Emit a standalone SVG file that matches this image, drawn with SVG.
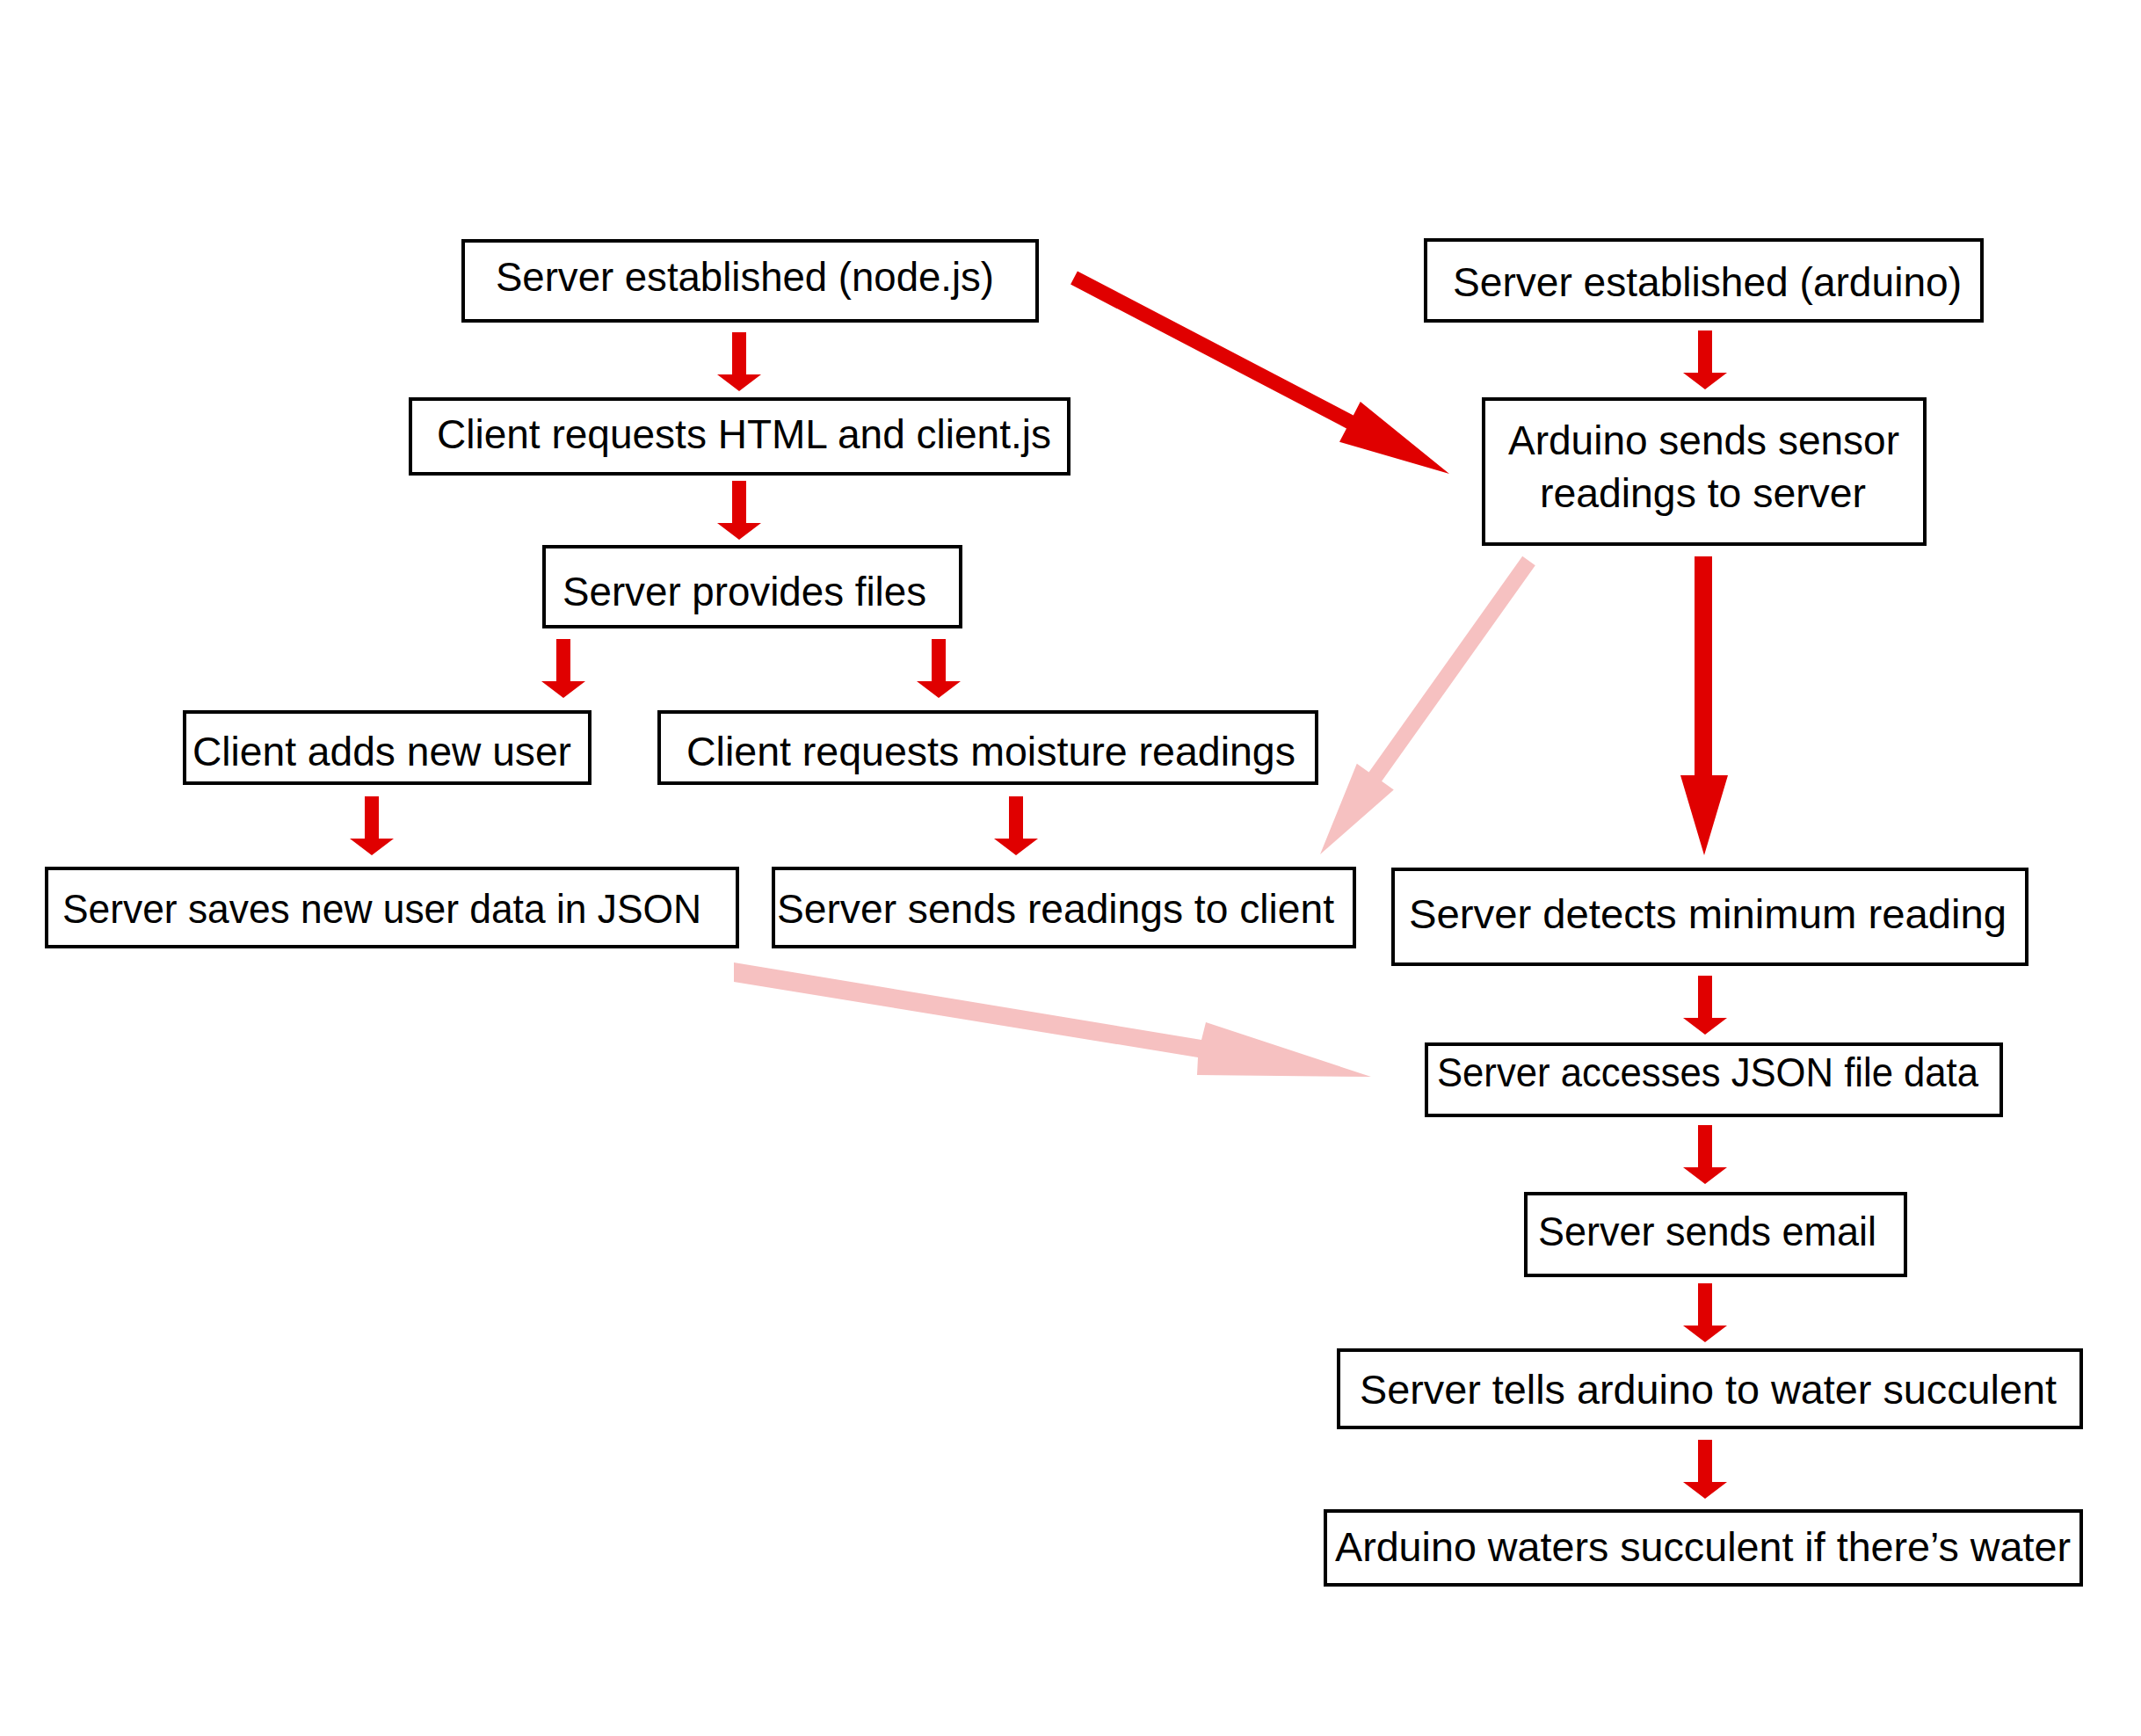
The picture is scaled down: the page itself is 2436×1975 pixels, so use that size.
<svg xmlns="http://www.w3.org/2000/svg" xmlns:xlink="http://www.w3.org/1999/xlink" width="2436" height="1975" viewBox="0 0 2436 1975">
<style>
.box{fill:#ffffff;stroke:#000000;stroke-width:4}
.lbl{font-family:"Liberation Sans",Arial,sans-serif;font-size:46px;fill:#000000}
.red{fill:#e00000}
.pink{fill:#f6c1c1}
</style>
<defs>
<polygon id="sarrow" points="-8,0 8,0 8,48 25,48 0,67 -25,48 -8,48"/>
</defs>
<rect width="2436" height="1975" fill="#ffffff"/>
<g id="connectors">
<use xlink:href="#sarrow" href="#sarrow" class="red" x="841" y="378"/>
<use xlink:href="#sarrow" href="#sarrow" class="red" x="841" y="547"/>
<use xlink:href="#sarrow" href="#sarrow" class="red" x="641" y="727"/>
<use xlink:href="#sarrow" href="#sarrow" class="red" x="1068" y="727"/>
<use xlink:href="#sarrow" href="#sarrow" class="red" x="423" y="906"/>
<use xlink:href="#sarrow" href="#sarrow" class="red" x="1156" y="906"/>
<use xlink:href="#sarrow" href="#sarrow" class="red" x="1940" y="376"/>
<use xlink:href="#sarrow" href="#sarrow" class="red" x="1940" y="1110"/>
<use xlink:href="#sarrow" href="#sarrow" class="red" x="1940" y="1280"/>
<use xlink:href="#sarrow" href="#sarrow" class="red" x="1940" y="1460"/>
<use xlink:href="#sarrow" href="#sarrow" class="red" x="1940" y="1638"/>
<polygon class="red" points="1928,633 1948,633 1948,882 1966,882 1939,973 1912,882 1928,882"/>
<polygon class="red" points="1225.9,308.5 1539.8,472.4 1547.8,457.1 1649,539 1524,502.7 1532,487.4 1218.1,323.5"/>
<polygon class="pink" points="1746.8,643.2 1572.1,888.8 1585.8,898.5 1502,972 1543.8,868.7 1557.5,878.4 1732.2,632.8"/>
<polygon class="pink" points="835,1095 1367,1183 1372,1163 1560,1225 1362,1223 1363,1203 835,1117"/>
</g>
<g id="n1"><rect class="box" x="527" y="274" width="653" height="91"/><text class="lbl" x="564" y="331" textLength="567" lengthAdjust="spacingAndGlyphs">Server established (node.js)</text></g>
<g id="n2"><rect class="box" x="467" y="454" width="749" height="85"/><text class="lbl" x="497" y="510" textLength="699" lengthAdjust="spacingAndGlyphs">Client requests HTML and client.js</text></g>
<g id="n3"><rect class="box" x="619" y="622" width="474" height="91"/><text class="lbl" x="640" y="689" textLength="414" lengthAdjust="spacingAndGlyphs">Server provides files</text></g>
<g id="n4"><rect class="box" x="210" y="810" width="461" height="81"/><text class="lbl" x="219" y="871" textLength="431" lengthAdjust="spacingAndGlyphs">Client adds new user</text></g>
<g id="n5"><rect class="box" x="750" y="810" width="748" height="81"/><text class="lbl" x="781" y="871" textLength="693" lengthAdjust="spacingAndGlyphs">Client requests moisture readings</text></g>
<g id="n6"><rect class="box" x="53" y="988" width="786" height="89"/><text class="lbl" x="71" y="1050" textLength="727" lengthAdjust="spacingAndGlyphs">Server saves new user data in JSON</text></g>
<g id="n7"><rect class="box" x="880" y="988" width="661" height="89"/><text class="lbl" x="884" y="1050" textLength="634" lengthAdjust="spacingAndGlyphs">Server sends readings to client</text></g>
<g id="n8"><rect class="box" x="1622" y="273" width="633" height="92"/><text class="lbl" x="1653" y="337" textLength="579" lengthAdjust="spacingAndGlyphs">Server established (arduino)</text></g>
<g id="n9"><rect class="box" x="1688" y="454" width="502" height="165"/><text class="lbl" x="1716" y="517" textLength="445" lengthAdjust="spacingAndGlyphs">Arduino sends sensor</text><text class="lbl" x="1752" y="577" textLength="371" lengthAdjust="spacingAndGlyphs">readings to server</text></g>
<g id="n10"><rect class="box" x="1585" y="989" width="721" height="108"/><text class="lbl" x="1603" y="1056" textLength="680" lengthAdjust="spacingAndGlyphs">Server detects minimum reading</text></g>
<g id="n11"><rect class="box" x="1623" y="1188" width="654" height="81"/><text class="lbl" x="1635" y="1236" textLength="616" lengthAdjust="spacingAndGlyphs">Server accesses JSON file data</text></g>
<g id="n12"><rect class="box" x="1736" y="1358" width="432" height="93"/><text class="lbl" x="1750" y="1417" textLength="385" lengthAdjust="spacingAndGlyphs">Server sends email</text></g>
<g id="n13"><rect class="box" x="1523" y="1536" width="845" height="88"/><text class="lbl" x="1547" y="1597" textLength="793" lengthAdjust="spacingAndGlyphs">Server tells arduino to water succulent</text></g>
<g id="n14"><rect class="box" x="1508" y="1719" width="860" height="84"/><text class="lbl" x="1519" y="1776" textLength="837" lengthAdjust="spacingAndGlyphs">Arduino waters succulent if there’s water</text></g>
</svg>
